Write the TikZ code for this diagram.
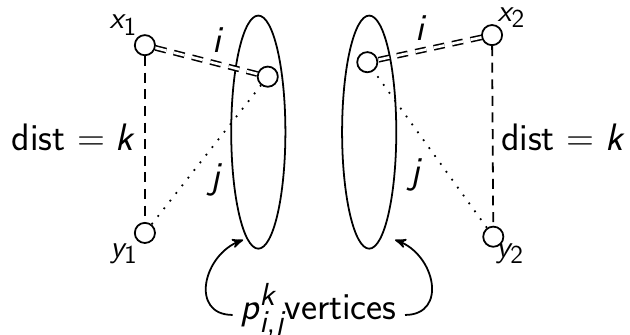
\documentclass[tikz,border=0pt]{standalone}
\usepackage{tikz}
\usepackage{amsmath,amssymb}
\renewcommand{\familydefault}{\sfdefault}
\usepackage[italic]{mathastext}
\usetikzlibrary{shapes.geometric,arrows,positioning}

\begin{document}
\begin{tikzpicture}[line width=0.8pt,font=\LARGE,>=stealth',
  vtx/.style={circle,draw,inner sep=0,minimum size=0.32cm},
  vlabel/.style={inner sep=1pt,font=\fontsize{14}{16}\selectfont},
  part/.style={ellipse,draw,inner sep=0,minimum width=0.86cm,minimum height=3.7cm},
  distline/.style={dash pattern=on 4.5pt off 3pt},
  pathline/.style={dash pattern=on 0.8pt off 3.6pt},
  edgeline/.style={double,line width=0.7pt,double distance=1.2pt,dash pattern=on 5pt off 3.5pt}]
\useasboundingbox (0,0) rectangle (10,5.317);
% the two parts
\node[part] (setL) at (4.10,3.22) {};
\node[part] (setR) at (5.86,3.22) {};
% vertices
\node[vtx] (x1) at (2.30,4.60) {};
\node[vtx] (y1) at (2.30,1.62) {};
\node[vtx] (u1) at (4.25,4.10) {};
\node[vtx] (x2) at (7.81,4.76) {};
\node[vtx] (y2) at (7.83,1.56) {};
\node[vtx] (u2) at (5.83,4.33) {};
\node[vlabel] (lx1) at (1.96,4.92) {$x_1$};
\node[vlabel] (ly1) at (1.97,1.29) {$y_1$};
\node[vlabel] (lx2) at (8.12,5.04) {$x_2$};
\node[vlabel] (ly2) at (8.10,1.29) {$y_2$};
% edges
\draw[distline] (x1) -- (y1);
\draw[distline] (x2) -- (y2);
\draw[edgeline] (x1) -- (u1);
\draw[edgeline] (x2) -- (u2);
\draw[pathline] (y1) -- (u1);
\draw[pathline] (y2) -- (u2);
\node (d1) at (1.15,3.14) {dist $= k$};
\node (d2) at (8.92,3.14) {dist $= k$};
\node (i1) at (3.44,4.68) {$i$};
\node (i2) at (6.67,4.87) {$i$};
\node (j1) at (3.41,2.46) {$j$};
\node (j2) at (6.59,2.54) {$j$};
% caption with arrows
\node[anchor=base] (cap) at (5.06,0.24) {$p^k_{i,j}$vertices};
\coordinate (tipL) at (3.86,1.51);
\coordinate (tipR) at (6.27,1.51);
\draw[->] (cap.mid west) to[out=180,in=200,looseness=1.45] (tipL);
\draw[->] (cap.mid east) to[out=0,in=-20,looseness=1.45] (tipR);
\end{tikzpicture}
\end{document}
